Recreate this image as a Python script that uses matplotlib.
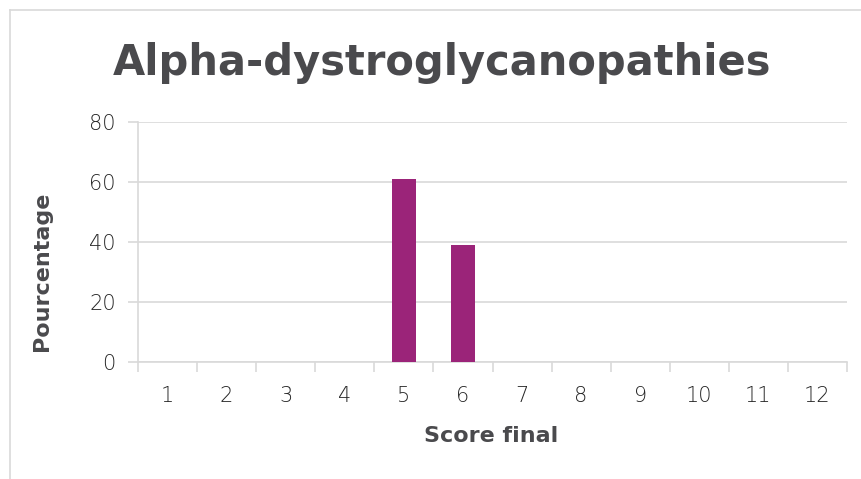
import matplotlib
matplotlib.use("Agg")
import matplotlib.pyplot as plt
from matplotlib.lines import Line2D

# Données
scores = [1, 2, 3, 4, 5, 6, 7, 8, 9, 10, 11, 12]
pourcentages = [0, 0, 0, 0, 61, 39, 0, 0, 0, 0, 0, 0]
titre = "Alpha-dystroglycanopathies"

bar_color = "#9B2479"
grid_color = "#d9d9d9"
text_color = "#4a4a4d"

plt.rcParams['font.family'] = ['DejaVu Sans']

fig = plt.figure(figsize=(8.61, 4.79), dpi=100)
ax = fig.add_axes([138 / 861, 1 - 362 / 479, (847 - 138) / 861, (362 - 122) / 479])

x = list(range(len(scores)))
ax.bar(x, pourcentages, width=0.4, color=bar_color, zorder=3)

ax.set_xlim(-0.5, len(scores) - 0.5)
ax.set_ylim(0, 80)
ax.set_yticks([0, 20, 40, 60, 80])
ax.yaxis.grid(True, color=grid_color, linewidth=1.2, zorder=0)

ax.set_xticks(x)
ax.set_xticklabels([str(s) for s in scores])
ax.set_xticks([i - 0.5 for i in range(len(scores) + 1)], minor=True)
ax.tick_params(axis='x', which='major', length=0, pad=17, labelsize=15, labelcolor="#262626")
ax.tick_params(axis='x', which='minor', length=7, width=1.2, color=grid_color)
ax.tick_params(axis='y', length=7, width=1.2, color=grid_color, labelsize=15,
               labelcolor="#262626", pad=9)
for lab in ax.get_xticklabels() + ax.get_yticklabels():
    lab.set_fontweight('light')

for side in ['top', 'right']:
    ax.spines[side].set_visible(False)
for side in ['left', 'bottom']:
    ax.spines[side].set_color(grid_color)
    ax.spines[side].set_linewidth(1.2)

fig.text(442 / 861, 1 - 63 / 479, titre, ha='center', va='center',
         fontsize=30, fontweight='bold', color=text_color)
fig.text(491 / 861, 1 - 436 / 479, "Score final", ha='center', va='center',
         fontsize=16, fontweight='bold', color=text_color)
fig.text(42 / 861, 1 - 271 / 479, "Pourcentage", ha='center', va='center',
         rotation=90, fontsize=16, fontweight='bold', color=text_color)

# Cadre du graphique (haut et gauche)
fig.add_artist(Line2D([10 / 861, 1], [1 - 10 / 479, 1 - 10 / 479],
                      transform=fig.transFigure, color="#d9d9d9", linewidth=1.2))
fig.add_artist(Line2D([10 / 861, 10 / 861], [0, 1 - 10 / 479],
                      transform=fig.transFigure, color="#d9d9d9", linewidth=1.2))

fig.savefig("out.png", dpi=100)
